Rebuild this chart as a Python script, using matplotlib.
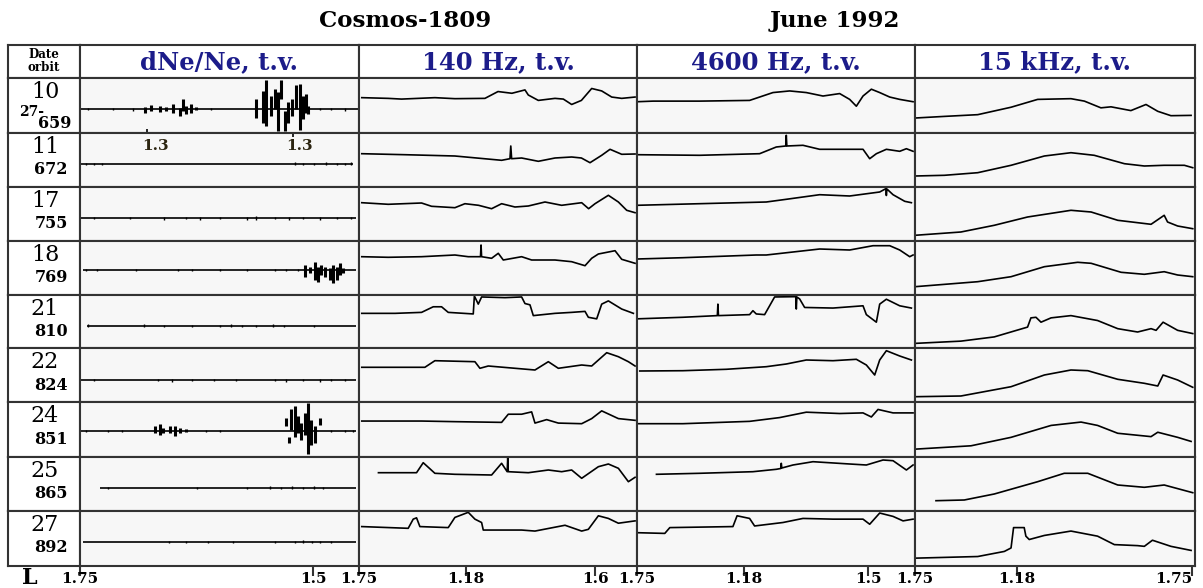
import matplotlib
matplotlib.use('Agg')
import matplotlib.pyplot as plt
from matplotlib.transforms import blended_transform_factory

# row labels (date / orbit)
dates = ['10', '11', '17', '18', '21', '22', '24', '25', '27']
orbits = ['659', '672', '755', '769', '810', '824', '851', '865', '892']
col_titles = ['dNe/Ne, t.v.', '140 Hz, t.v.', '4600 Hz, t.v.', '15 kHz, t.v.']

# L tick marks along each column (fraction of column width, label)
l_ticks = [
    [(0.0, '1.75'), (0.835, '1.5')],
    [(0.0, '1.75'), (0.385, '1.18'), (0.85, '1.6')],
    [(0.0, '1.75'), (0.385, '1.18'), (0.831, '1.5')],
    [(0.0, '1.75'), (0.364, '1.18'), (0.989, '1.75')],
]

# dNe/Ne: baseline level, start, end of each trace
dne_base = [23.3, 23.3, 22.7, 25, 22.7, 22, 26, 23.3, 24]
dne_start = [0.005, 0.005, 0.005, 0.01, 0.025, 0.005, 0.005, 0.07, 0.01]
dne_end = [0.995, 0.98, 0.99, 0.99, 0.99, 0.99, 0.99, 0.99, 0.99]
# small wiggles (x, low, high) relative to baseline
dne_noise = [
    [(.03, -1, 1), (.12, -1, 1.5), (.19, -1.5, 1), (.47, -1, 1), (.86, -1, 1.5), (.9, -1, 1), (.95, -1.5, 1)],
    [(.02, -1.5, 1), (.05, -1, 1), (.08, -1, 1), (.77, -1, 1.5), (.8, -1.5, 1), (.84, -1, 1), (.88, -1, 1.5),
     (.92, -1.5, 1), (.95, -1, 1), (.97, -1.5, 1.5)],
    [(.05, -1, 1), (.18, -1, 1), (.3, -1.5, 1), (.38, -1, 1.5), (.43, -1.5, 1), (.5, -1, 1.5), (.6, -2, 1.5),
     (.63, -1.5, 2), (.7, -1, 1), (.75, -1.5, 1.5), (.8, -1, 1.5), (.86, -1.5, 1), (.92, -1, 1.5), (.97, -1, 1)],
    [(.02, -1.5, 1.5), (.06, -1, 1), (.2, -1, 1), (.35, -1, 1.5), (.4, -1, 1), (.5, -1.5, 1), (.6, -1, 1.5),
     (.7, -1.5, 1), (.74, -1, 1.5), (.78, -1.5, 1.5)],
    [(.03, -1, 1.5), (.23, -1, 1.5), (.3, -1, 1), (.4, -1, 1), (.5, -1.5, 1), (.54, -1, 1.5), (.58, -1.5, 1),
     (.63, -1, 1), (.69, -1.5, 1.5), (.73, -1, 1), (.84, -1, 1)],
    [(.05, -1, 1), (.28, -1, 1.5), (.33, -1.5, 1), (.4, -1, 1), (.48, -1, 1.5), (.56, -1, 1), (.7, -1, 1.5),
     (.74, -1.5, 1), (.8, -1, 1.5), (.86, -1.5, 1.5), (.9, -1, 1), (.95, -1, 1.5)],
    [(.02, -1, 1), (.1, -1, 1), (.15, -1, 1), (.45, -1, 1), (.5, -1, 1), (.9, -1, 1), (.95, -1.5, 1), (.98, -1, 1)],
    [(.1, -1, 1), (.42, -1, 1), (.6, -1, 1), (.68, -1, 1.5), (.72, -1.5, 1), (.76, -1, 1.5), (.8, -1.5, 1),
     (.84, -1, 1.5), (.87, -1, 1)],
    [(.32, -1, 1), (.38, -1, 1), (.46, -1, 1), (.55, -1, 1), (.7, -1, 1), (.77, -1, 1), (.8, -1, 1.5),
     (.83, -1, 1), (.86, -1, 1), (.9, -1, 1)],
]
# bursts (row index, x, low level, high level)
dne_burst = [
    (0, .232, 20, 26), (0, .256, 21.7, 27.3), (0, .286, 20.7, 26.7), (0, .309, 21.7, 26), (0, .333, 20, 28.3),
    (0, .357, 16.7, 25), (0, .369, 21.7, 33.3), (0, .381, 18.3, 26.7), (0, .399, 20, 28.3), (0, .417, 22.7, 26),
    (0, .632, 15, 33.3), (0, .656, 10, 41.7), (0, .668, 6.7, 51.7), (0, .686, 16.7, 36.7), (0, .698, 23.3, 43.3),
    (0, .71, 1.7, 40), (0, .722, 33.3, 51.7), (0, .734, 1.7, 21.7), (0, .746, 10, 30), (0, .761, 16.7, 33.3),
    (0, .775, 23.3, 46.7), (0, .787, 3.3, 48.3), (0, .799, 13.3, 36.7), (0, .809, 20, 38.3), (0, .817, 18.3, 26.7),
    (3, .805, 18.3, 30), (3, .823, 21.7, 27.7), (3, .841, 15, 33.3), (3, .853, 13.3, 28.3), (3, .865, 20, 30),
    (3, .877, 18.3, 27.7), (3, .895, 15, 26.7), (3, .907, 11.7, 30), (3, .921, 15, 28.3), (3, .931, 20, 31.7),
    (3, .943, 21.7, 26.7),
    (6, .268, 23.3, 30), (6, .286, 21.7, 32.7), (6, .297, 24, 28.3), (6, .321, 23.3, 30), (6, .339, 20.7, 30.7),
    (6, .357, 24, 28.3), (6, .381, 24.7, 27.3),
    (6, .737, 30, 38.3), (6, .749, 13.3, 19.3), (6, .757, 26.7, 46.7), (6, .769, 20, 50), (6, .781, 23.3, 40),
    (6, .793, 16.7, 33.3), (6, .805, 21.7, 43.3), (6, .817, 3.3, 53.3), (6, .829, 11.7, 36.7), (6, .841, 13.3, 30),
    (6, .859, 31.7, 38.3),
]

# 140 Hz traces (x fraction, level)
hz140 = [
    [(.01, 34.7), (.105, 34), (.153, 33.3), (.273, 34.7), (.345, 33.7), (.453, 34), (.50, 40.7), (.55, 39),
     (.597, 42.3), (.609, 37.3), (.645, 32), (.705, 34), (.735, 33.3), (.765, 28), (.80, 32), (.837, 43.7),
     (.873, 41.3), (.909, 35.3), (.945, 34), (.993, 35.3)],
    [(.01, 33.3), (.165, 32.3), (.345, 31), (.513, 26.7), (.543, 28.3), (.546, 41), (.549, 28.3), (.585, 29),
     (.645, 25.7), (.705, 29), (.765, 30), (.80, 29), (.831, 24.3), (.873, 31.7), (.903, 37.7), (.945, 32.7),
     (.993, 33)],
    [(.01, 38.3), (.105, 36.7), (.225, 38), (.261, 34.7), (.345, 33.3), (.381, 37.3), (.43, 35.7), (.477, 32.3),
     (.513, 37.3), (.561, 34), (.609, 35), (.669, 39), (.729, 35.7), (.801, 38.3), (.826, 32.3), (.849, 37.3),
     (.897, 45.7), (.933, 39), (.963, 30.7), (.993, 28.3)],
    [(.01, 38.3), (.105, 37.7), (.225, 38.3), (.345, 40), (.393, 38.3), (.437, 38.3), (.439, 50), (.441, 38.3),
     (.477, 36.7), (.501, 41.7), (.519, 35), (.585, 38.3), (.621, 35), (.705, 35), (.765, 33.3), (.813, 29.3),
     (.837, 36.7), (.861, 41), (.921, 44.3), (.945, 35.7), (.993, 31.7)],
    [(.01, 35.3), (.13, 35.3), (.225, 36.3), (.267, 42), (.297, 42), (.321, 36.3), (.411, 34.7), (.415, 53),
     (.429, 44.7), (.441, 52), (.525, 51.3), (.585, 52), (.597, 45.3), (.615, 44), (.627, 33), (.705, 35.3),
     (.765, 36.3), (.813, 37.3), (.825, 31.3), (.855, 29.7), (.873, 44.7), (.897, 48), (.945, 39.7), (.987, 35.3)],
    [(.01, 34.7), (.237, 34.7), (.273, 41.3), (.417, 40.3), (.435, 33.7), (.465, 36), (.633, 32), (.681, 40.3),
     (.717, 33.7), (.801, 37), (.837, 36), (.891, 49.3), (.933, 45.3), (.969, 40.3), (.993, 36)],
    [(.01, 35.3), (.225, 35.3), (.345, 34.7), (.513, 34), (.537, 42), (.585, 42), (.621, 44.3), (.633, 33.3),
     (.675, 36.7), (.717, 33.3), (.801, 32.7), (.837, 37.7), (.873, 45.3), (.933, 37.7), (.993, 36)],
    [(.07, 38.3), (.207, 38.3), (.231, 48.3), (.273, 37.7), (.345, 36.7), (.477, 36), (.513, 47.7), (.533, 39.3),
     (.535, 53), (.537, 39.3), (.609, 38.3), (.681, 41), (.729, 39.3), (.765, 41), (.801, 32.7), (.861, 44.3),
     (.897, 47), (.933, 42.7), (.969, 29.3), (.993, 33.7)],
    [(.01, 38.7), (.177, 37), (.195, 46), (.207, 47.3), (.219, 38.7), (.321, 37.7), (.345, 47.7), (.393, 52.7),
     (.417, 46), (.441, 42.7), (.447, 35.3), (.585, 35.3), (.633, 34.3), (.741, 40), (.801, 34.3), (.825, 36),
     (.861, 49.3), (.897, 46.7), (.933, 42), (.993, 44.3)],
]

# 4600 Hz traces
hz4600 = [
    [(0, 30.7), (.058, 31.3), (.225, 31.3), (.405, 32), (.489, 39.7), (.549, 41.3), (.609, 39.7), (.669, 36.3),
     (.729, 38.7), (.765, 33), (.789, 26.3), (.813, 36.3), (.843, 43), (.873, 39.7), (.909, 35.3), (.945, 33),
     (.993, 30.7)],
    [(0, 32.3), (.225, 31.7), (.441, 33.3), (.501, 40), (.535, 41), (.537, 51.7), (.539, 41), (.597, 41.7),
     (.657, 37.7), (.753, 37.7), (.813, 37.7), (.837, 28.3), (.861, 33.3), (.897, 37.7), (.945, 35.7),
     (.969, 38.3), (.993, 35.7)],
    [(0, 35.7), (.225, 37.3), (.465, 39), (.537, 41.7), (.657, 46.3), (.765, 45), (.873, 49), (.895, 52.3),
     (.897, 45.5), (.899, 52), (.921, 46.3), (.963, 39.7), (.987, 38.3)],
    [(0, 36), (.165, 37.3), (.429, 40), (.465, 40), (.657, 46), (.765, 45), (.849, 49.3), (.909, 49.3),
     (.945, 45), (.981, 38.3), (.993, 40)],
    [(0, 29.7), (.165, 31.3), (.289, 33), (.291, 44.7), (.293, 33), (.405, 34), (.417, 38), (.429, 34.7),
     (.459, 34), (.477, 43), (.495, 52), (.571, 52.3), (.573, 39.7), (.575, 52), (.585, 50), (.603, 41.3),
     (.705, 40.7), (.813, 43), (.825, 34), (.861, 26.3), (.873, 44.7), (.897, 49.7), (.945, 43), (.987, 40.7)],
    [(.01, 31), (.165, 31.3), (.321, 32.7), (.465, 35.3), (.537, 38), (.609, 42), (.705, 41.3), (.789, 42.7),
     (.825, 37), (.855, 27), (.873, 42), (.897, 51.3), (.945, 46), (.987, 42)],
    [(0, 32.7), (.165, 32.7), (.405, 35), (.513, 38.7), (.609, 44), (.729, 42.7), (.813, 43.3), (.843, 39.3),
     (.867, 46.7), (.921, 43.3), (.993, 43.3)],
    [(.07, 36.7), (.225, 37.7), (.417, 39.3), (.501, 41.7), (.517, 42.5), (.519, 47.7), (.521, 43), (.561, 46),
     (.633, 49.3), (.765, 47), (.825, 46), (.885, 51), (.921, 50.3), (.969, 41), (.993, 46)],
    [(0, 32.7), (.1, 32), (.118, 37.7), (.345, 38.7), (.36, 49.3), (.405, 46.7), (.423, 39.3), (.525, 42.7),
     (.597, 46.7), (.705, 46), (.813, 46), (.837, 41), (.873, 52), (.921, 48.7), (.957, 44.3), (.993, 46)],
]

# 15 kHz traces
khz15 = [
    [(0, 14.7), (.105, 16.3), (.224, 18), (.343, 25.3), (.438, 33), (.557, 33.7), (.605, 31.3), (.664, 24.7),
     (.7, 25.7), (.771, 22), (.825, 28), (.867, 21.3), (.914, 17), (.986, 17.3)],
    [(0, 11), (.105, 11.7), (.224, 14.3), (.343, 21.7), (.462, 31), (.557, 34.3), (.64, 31.7), (.748, 23.3),
     (.819, 21), (.89, 21.7), (.962, 21.7), (.992, 19.3)],
    [(0, 5.7), (.164, 9), (.283, 15.7), (.402, 24), (.557, 30.7), (.629, 29), (.724, 20.7), (.843, 16.7),
     (.89, 25.7), (.902, 19), (.938, 15), (.992, 12.3)],
    [(0, 8.3), (.224, 13.3), (.343, 18.3), (.462, 28.3), (.581, 32.7), (.629, 31.7), (.736, 22.7), (.819, 20.7),
     (.89, 23.3), (.938, 20), (.992, 18.3)],
    [(0, 4.7), (.164, 7), (.283, 11.3), (.402, 21.3), (.414, 30.7), (.432, 31.3), (.45, 26.3), (.486, 30.7),
     (.557, 33), (.652, 28), (.724, 19.7), (.795, 16.3), (.843, 19.7), (.861, 18), (.886, 26.3), (.938, 18),
     (.992, 14.7)],
    [(0, 5.3), (.164, 6), (.343, 15.3), (.462, 27), (.557, 32), (.617, 31.3), (.724, 22.7), (.819, 18.7),
     (.867, 16), (.886, 27), (.938, 22), (.992, 14.7)],
    [(0, 7.7), (.2, 11), (.343, 19.3), (.486, 31), (.593, 34.3), (.652, 31), (.724, 23.3), (.843, 20),
     (.867, 24.3), (.938, 19.3), (.986, 15.3)],
    [(.075, 10.3), (.176, 11), (.283, 17), (.438, 29.3), (.533, 37.7), (.617, 37.7), (.724, 26), (.819, 23.7),
     (.89, 26), (.992, 18.3)],
    [(0, 7.7), (.224, 9.3), (.319, 14.3), (.343, 17.7), (.352, 37.7), (.39, 37.7), (.396, 29.3), (.408, 26),
     (.462, 30), (.557, 34.3), (.652, 29.3), (.712, 21), (.795, 20), (.819, 19.3), (.848, 25.3), (.914, 19.3),
     (.986, 15.3)],
]

W, H = 1203, 588
col_edges = [8, 80, 359, 637, 915, 1195]
row_edges = [45, 78, 133, 187, 241, 295, 348, 402, 457, 511, 566]
LINE = '#333333'
BLUE = '#1c1c8a'
SERIF = 'DejaVu Serif'

fig = plt.figure(figsize=(W / 100, H / 100), dpi=100)


def cell(x0, y0, x1, y1, bg='#f7f7f7'):
    ax = fig.add_axes([x0 / W, 1 - y1 / H, (x1 - x0) / W, (y1 - y0) / H])
    ax.set_facecolor(bg)
    ax.set_xlim(0, 1)
    ax.set_ylim(0, 54)
    ax.set_xticks([])
    ax.set_yticks([])
    for s in ax.spines.values():
        s.set_color(LINE)
        s.set_linewidth(1.5)
    return ax


def ftext(x, y, s, **kw):
    fig.text(x / W, 1 - y / H, s, family=SERIF, **kw)


# header row
cell(col_edges[0], row_edges[0], col_edges[1], row_edges[1], bg='white')
ftext(44, 61, 'Date\norbit', ha='center', va='center', fontsize=8.5, fontweight='bold', linespacing=0.95)
for c, t in enumerate(col_titles):
    cell(col_edges[c + 1], row_edges[0], col_edges[c + 2], row_edges[1], bg='white')
    ftext((col_edges[c + 1] + col_edges[c + 2]) / 2, 62, t, ha='center', va='center',
          fontsize=17.5, fontweight='bold', color=BLUE)

ftext(405, 21, 'Cosmos-1809', ha='center', va='center', fontsize=16.5, fontweight='bold')
ftext(835, 21, 'June 1992', ha='center', va='center', fontsize=16.5, fontweight='bold')

traces = [hz140, hz4600, khz15]
for r in range(9):
    y0, y1 = row_edges[r + 1], row_edges[r + 2]
    cell(col_edges[0], y0, col_edges[1], y1, bg='white')
    if r == 0:
        ftext(45, 92, dates[r], ha='center', va='center', fontsize=16)
        ftext(32, 112, '27-', ha='center', va='center', fontsize=10, fontweight='bold')
        ftext(55, 124, orbits[r], ha='center', va='center', fontsize=11.5, fontweight='bold')
    else:
        ftext(45, y0 + 14, dates[r], ha='center', va='center', fontsize=16)
        ftext(51, y0 + 37, orbits[r], ha='center', va='center', fontsize=11.5, fontweight='bold')

    # dNe/Ne column
    ax = cell(col_edges[1], y0, col_edges[2], y1)
    b = dne_base[r]
    ax.hlines(b, dne_start[r], dne_end[r], color='black', lw=1.2)
    nx = [p[0] for p in dne_noise[r]]
    ax.vlines(nx, [b + p[1] for p in dne_noise[r]], [b + p[2] for p in dne_noise[r]], color='black', lw=1)
    bx = [p[1] for p in dne_burst if p[0] == r]
    if bx:
        ax.vlines(bx, [p[2] for p in dne_burst if p[0] == r], [p[3] for p in dne_burst if p[0] == r],
                  color='black', lw=2.2)
    if r == 0:
        ax.vlines([0.241], 0, 4, color='black', lw=1.2)
    if r == 1:
        ax.vlines([0.763], 50, 54, color='black', lw=1.2)

    for c in range(3):
        ax = cell(col_edges[c + 2], y0, col_edges[c + 3], y1)
        pts = traces[c][r]
        ax.plot([p[0] for p in pts], [p[1] for p in pts], color='black', lw=1.2)

# "1.3" markers under the first dNe/Ne trace
ftext(155, 146, '1.3', ha='center', va='center', fontsize=11, fontweight='bold', color='#2b2410')
ftext(300, 146, '1.3', ha='center', va='center', fontsize=11, fontweight='bold', color='#2b2410')

# L axis under the bottom row
for c in range(4):
    x0, x1 = col_edges[c + 1], col_edges[c + 2]
    ax = fig.add_axes([x0 / W, 1 - row_edges[-1] / H, (x1 - x0) / W, 0.001])
    ax.set_xlim(0, 1)
    ax.patch.set_alpha(0)
    for s in ax.spines.values():
        s.set_visible(False)
    ax.set_yticks([])
    ax.set_xticks([t[0] for t in l_ticks[c]])
    ax.tick_params(axis='x', length=7, width=1.5, color=LINE, labelbottom=False)
    tr = blended_transform_factory(ax.transData, fig.transFigure)
    for i, (pos, lab) in enumerate(l_ticks[c]):
        ha = 'right' if (c == 3 and i == len(l_ticks[c]) - 1) else 'center'
        ax.text(pos, 1 - 579 / H, lab, transform=tr, ha=ha, va='center', family=SERIF,
                fontweight='bold', fontsize=11)
ftext(30, 578, 'L', ha='center', va='center', fontsize=16, fontweight='bold')

fig.savefig('out.png', dpi=100)
